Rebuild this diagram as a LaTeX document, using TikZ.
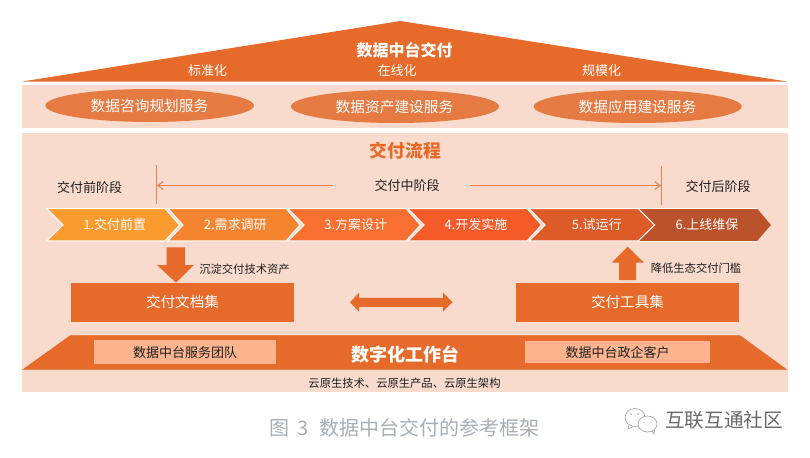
\documentclass[tikz,border=0pt]{standalone}
\usepackage{fontspec}
\setmainfont{Noto Sans CJK SC}
\usetikzlibrary{arrows.meta}
\definecolor{mainor}{HTML}{E66A2A}
\definecolor{bandbg}{HTML}{F8DBCC}
\definecolor{ellor}{HTML}{E67A43}
\definecolor{lineor}{HTML}{E8834F}
\definecolor{boxor}{HTML}{FBB48E}
\definecolor{capgray}{HTML}{A9AFB6}
\definecolor{markgray}{HTML}{6A6A6A}
\definecolor{chA}{HTML}{F99B2E}
\definecolor{chB}{HTML}{F58430}
\definecolor{chC}{HTML}{F77031}
\definecolor{chD}{HTML}{F45B29}
\definecolor{chE}{HTML}{DC5B27}
\definecolor{chF}{HTML}{BC522B}
\newcommand{\sz}[1]{\fontsize{\dimexpr#1pt*3/4\relax}{\dimexpr#1pt*3/4\relax}\selectfont}
\tikzset{
  lbl/.style={inner sep=0pt,outer sep=0pt,anchor=center},
  wlbl/.style={lbl,text=white},
  klbl/.style={lbl,text=black!88},
  band/.style={fill=bandbg,draw=none},
  solidor/.style={fill=mainor,draw=none},
  oval/.style={fill=ellor,draw=none},
  chev/.style={draw=white!85!bandbg,line width=0.8pt,line join=miter},
  thinline/.style={draw=lineor,line width=0.8pt},
  thinarrow/.style={thinline,-{Straight Barb[length=4pt,width=6pt]}},
  tag/.style={fill=boxor,draw=none},
  iconline/.style={draw=gray!70,line width=0.5pt}
}
\begin{document}
\begin{tikzpicture}[x=0.75pt,y=-0.75pt]
\path[use as bounding box,fill=white] (0,0) rectangle (810,457);
% roof
\fill[solidor] (22.5,81.5) -- (400.5,21) -- (787,81.5) -- cycle;
\node[wlbl,font=\sz{16}\bfseries] (roof) at (404.5,50) {数据中台交付};
\node[wlbl,font=\sz{13}] (std) at (207.5,71) {标准化};
\node[wlbl,font=\sz{13}] (online) at (397,71) {在线化};
\node[wlbl,font=\sz{13}] (scale) at (601.5,71) {规模化};
% bands
\fill[band] (22,85) rectangle (788,128);
\fill[band] (22,133) rectangle (788,392);
% ovals
\fill[oval] (149.7,105.5) ellipse [x radius=104.3,y radius=16.5];
\fill[oval] (395,106.5) ellipse [x radius=104,y radius=16.5];
\fill[oval] (637.7,106.5) ellipse [x radius=104,y radius=16.5];
\node[wlbl,font=\sz{14.7}] (svcA) at (149.5,106) {数据咨询规划服务};
\node[wlbl,font=\sz{14.7}] (svcB) at (394.5,107) {数据资产建设服务};
\node[wlbl,font=\sz{14.7}] (svcC) at (637.5,107) {数据应用建设服务};
% flow title
\node[lbl,text=mainor,font=\sz{17.8}\bfseries] (flow) at (405.5,151) {交付流程};
% phase labels
\node[klbl,font=\sz{13}] (pre) at (89.5,188) {交付前阶段};
\node[klbl,font=\sz{13}] (mid) at (407,186) {交付中阶段};
\node[klbl,font=\sz{13}] (post) at (718,187) {交付后阶段};
\coordinate (ltop) at (156.5,165);
\coordinate (lbot) at (156.5,204);
\coordinate (rtop) at (661.5,166);
\coordinate (rbot) at (661.5,205);
\coordinate (lmid) at (157,185.5);
\coordinate (rmid) at (661,185.5);
\coordinate (lstart) at (332.5,185.5);
\coordinate (rstart) at (470,185.5);
\draw[thinline] (ltop) -- (lbot);
\draw[thinline] (rtop) -- (rbot);
\draw[thinarrow] (lstart) -- (lmid);
\draw[thinarrow] (rstart) -- (rmid);
% chevrons
\fill[chF] (638.5,208.5) -- (757,208.5) -- (771,225) -- (757,241) -- (638.5,241) -- (654.5,225) -- cycle;
\draw[chev,line width=0.5pt] (638.5,208.5) -- (757,208.5);
\draw[chev,line width=0.5pt] (757,241) -- (638.5,241);
\filldraw[chev,fill=chE] (529,208.5) -- (638,208.5) -- (654.5,225) -- (638,241) -- (529,241) -- (545,225) -- cycle;
\filldraw[chev,fill=chD] (408,208.5) -- (527,208.5) -- (541.5,225) -- (527,241) -- (408,241) -- (424,225) -- cycle;
\filldraw[chev,fill=chC] (288,208.5) -- (406,208.5) -- (420.5,225) -- (406,241) -- (288,241) -- (304,225) -- cycle;
\filldraw[chev,fill=chB] (168,208.5) -- (286,208.5) -- (300,225) -- (286,241) -- (168,241) -- (183,225) -- cycle;
\filldraw[chev,fill=chA] (46.5,208.5) -- (165,208.5) -- (179.5,225) -- (165,241) -- (46.5,241) -- (63,225) -- cycle;
\node[wlbl,font=\sz{13}] (stA) at (114.7,224.5) {1.交付前置};
\node[wlbl,font=\sz{13}] (stB) at (235.3,224.5) {2.需求调研};
\node[wlbl,font=\sz{13}] (stC) at (355.8,224.5) {3.方案设计};
\node[wlbl,font=\sz{13}] (stD) at (476,224.5) {4.开发实施};
\node[wlbl,font=\sz{13}] (stE) at (596.7,224.5) {5.试运行};
\node[wlbl,font=\sz{13}] (stF) at (707,224.5) {6.上线维保};
% block arrows
\fill[solidor] (166.7,247.3) -- (185,247.3) -- (185,265) -- (194,265) -- (176,282.7) -- (157,265) -- (166.7,265) -- cycle;
\fill[solidor] (627.7,246.7) -- (644,262.7) -- (636,262.7) -- (636,280) -- (619,280) -- (619,262.7) -- (611.7,262.7) -- cycle;
\fill[solidor] (350,302.2) -- (359,292.7) -- (359,297.8) -- (443,297.8) -- (443,292.7) -- (452.5,302.2) -- (443,311.7) -- (443,306.8) -- (359,306.8) -- (359,311.7) -- cycle;
\node[klbl,font=\sz{11.3}] (sink) at (244.5,269) {沉淀交付技术资产};
\node[klbl,font=\sz{11.3}] (lower) at (696,268) {降低生态交付门槛};
% doc and tool boxes
\fill[solidor] (71,283) rectangle (294,321.7);
\fill[solidor] (516,283) rectangle (739,321.7);
\node[wlbl,font=\sz{14.6}] (docs) at (182.5,302) {交付文档集};
\node[wlbl,font=\sz{14.6}] (tools) at (627.5,302) {交付工具集};
% platform
\fill[solidor] (22.5,369.5) -- (70,335.5) -- (740.3,335.5) -- (787,369.5) -- cycle;
\draw[lineor,line width=0.6pt] (70,335.5) -- (740.3,335.5);
\draw[lineor,line width=0.6pt] (22.5,369.5) -- (787,369.5);
\fill[tag] (94,340) rectangle (276,364);
\fill[tag] (525,341) rectangle (710,363);
\node[klbl,font=\sz{13}] (team) at (185,353) {数据中台服务团队};
\node[klbl,font=\sz{13}] (client) at (617.5,353) {数据中台政企客户};
\node[wlbl,font=\sz{18}\bfseries] (bench) at (405,354) {数字化工作台};
\node[klbl,font=\sz{11.3}] (cloud) at (404.5,383) {云原生技术、云原生产品、云原生架构};
% caption
\node[lbl,text=capgray,font=\sz{20}] (cap) at (404.5,428) {图\hspace{0.4em}3\hspace{0.5em}数据中台交付的参考框架};
% watermark
\node[lbl,text=markgray,font=\sz{19.6}] (mark) at (724,420.5) {互联互通社区};
\draw[iconline,fill=white] (635,417.5) ellipse [x radius=10,y radius=9];
\draw[iconline] (629,425) -- (628,429) -- (633,426.5);
\draw[iconline,fill=white] (647.5,424) ellipse [x radius=9.5,y radius=8];
\draw[iconline] (652,431) -- (654,434) -- (654.5,429.5);
\fill[gray!70] (631,414) circle (0.8) (638,414) circle (0.8) (644,422.5) circle (0.7) (651,422.5) circle (0.7);
\end{tikzpicture}
\end{document}
